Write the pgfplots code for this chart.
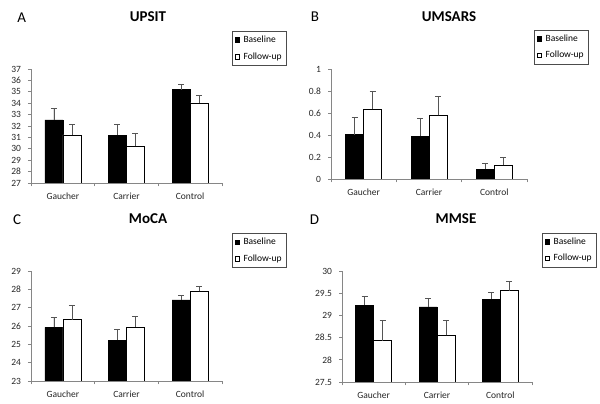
\documentclass[border=0pt]{standalone}
\usepackage{fontspec}
\setmainfont{Carlito}
\usepackage{pgfplots}
\pgfplotsset{compat=1.18}
\definecolor{axgray}{HTML}{868686}
\definecolor{errgray}{HTML}{555555}
\pgfplotsset{
  legimg/.style={legend image code/.code={\draw[##1, line width=0.4pt] (0pt,-2.3pt) rectangle (4.6pt,2.3pt); \path[draw=none,fill=none] (6.5pt,-0.1pt) rectangle (6.6pt,0.1pt);}},
  panel/.style={
    scale only axis,
    /pgf/number format/assume math mode=true,
    xmin=-0.5, xmax=2.5,
    xtick={0,1,2}, xticklabels={Gaucher,Carrier,Control},
    minor xtick={-0.5,0.5,1.5,2.5},
    major x tick style={draw=none},
    minor tick length=3.5pt, major tick length=3pt,
    tick align=outside,
    separate axis lines,
    axis x line*=bottom, axis y line*=left,
    axis line style={-, draw=axgray, line width=0.6pt},
    tick style={draw=axgray, line width=0.6pt},
    tick label style={font=\fontsize{9.5}{10}\selectfont, text=black!85},
    xticklabel style={yshift=-3pt},
    yticklabel style={xshift=-3.5pt},
    ybar=0pt, bar width=18pt,
    error bars/y dir=plus, error bars/y explicit,
    error bars/error bar style={draw=errgray, line width=0.6pt},
    error bars/error mark options={draw=errgray, line width=0.6pt, mark size=3pt, rotate=90},
    legend cell align=left,
    legend style={anchor=north west, draw=black!70, line width=0.6pt,
      font=\fontsize{9.5}{10}\selectfont, inner xsep=2.5pt, inner ysep=2.5pt, row sep=4.5pt},
    clip=true,
  },
  base/.style={fill=black, draw=black, line width=0.5pt, legimg},
  foll/.style={fill=white, draw=black, line width=0.5pt, legimg},
}
\begin{document}
\begin{tikzpicture}[x=1pt,y=1pt]
\useasboundingbox (0,0) rectangle (600,404);
% Panel A
\begin{axis}[panel, at={(31pt,221pt)}, anchor=south west, width=191pt, height=114pt,
  ymin=27, ymax=37, ytick={27,28,...,37},
  legend style={at={(1.052,1.333)}}]
\addplot[base] coordinates {(0,32.54) +- (0,1.02) (1,31.17) +- (0,0.99) (2,35.19) +- (0,0.47)};
\addplot[foll] coordinates {(0,31.23) +- (0,0.96) (1,30.24) +- (0,1.13) (2,34.03) +- (0,0.67)};
\legend{Baseline,Follow-up}
\end{axis}
% Panel B
\begin{axis}[panel, at={(331pt,225pt)}, anchor=south west, width=196pt, height=110pt,
  ymin=0, ymax=1, ytick={0,0.2,...,1.0},
  yticklabels={0,0.2,0.4,0.6,0.8,1},
  legend style={at={(1.036,1.355)}}]
\addplot[base] coordinates {(0,0.403) +- (0,0.157) (1,0.39) +- (0,0.165) (2,0.088) +- (0,0.054)};
\addplot[foll] coordinates {(0,0.636) +- (0,0.164) (1,0.579) +- (0,0.171) (2,0.127) +- (0,0.07)};
\legend{Baseline,Follow-up}
\end{axis}
% Panel C
\begin{axis}[panel, at={(31pt,23pt)}, anchor=south west, width=191pt, height=110pt,
  ymin=23, ymax=29, ytick={23,24,...,29},
  legend style={at={(1.052,1.342)}}]
\addplot[base] coordinates {(0,25.92) +- (0,0.54) (1,25.23) +- (0,0.6) (2,27.42) +- (0,0.24)};
\addplot[foll] coordinates {(0,26.35) +- (0,0.76) (1,25.95) +- (0,0.56) (2,27.89) +- (0,0.25)};
\legend{Baseline,Follow-up}
\end{axis}
% Panel D
\begin{axis}[panel, at={(342pt,22pt)}, anchor=south west, width=190pt, height=111pt,
  ymin=27.5, ymax=30, ytick={27.5,28,28.5,29,29.5,30},
  yticklabels={27.5,28,28.5,29,29.5,30},
  legend style={at={(1.053,1.343)}}]
\addplot[base] coordinates {(0,29.23) +- (0,0.19) (1,29.19) +- (0,0.19) (2,29.36) +- (0,0.15)};
\addplot[foll] coordinates {(0,28.43) +- (0,0.46) (1,28.55) +- (0,0.34) (2,29.56) +- (0,0.21)};
\legend{Baseline,Follow-up}
\end{axis}
% Titles and panel letters
\node[font=\fontsize{15}{18}\selectfont] at (21.7,386) {A};
\node[font=\bfseries\fontsize{15}{18}\selectfont] at (148,387) {UPSIT};
\node[font=\fontsize{15}{18}\selectfont] at (315,387) {B};
\node[font=\bfseries\fontsize{15}{18}\selectfont] at (449,387) {UMSARS};
\node[font=\fontsize{15}{18}\selectfont] at (17,184) {C};
\node[font=\bfseries\fontsize{15}{18}\selectfont] at (148,185) {MoCA};
\node[font=\fontsize{15}{18}\selectfont] at (314.5,184) {D};
\node[font=\bfseries\fontsize{15}{18}\selectfont] at (456,185) {MMSE};
\end{tikzpicture}
\end{document}
